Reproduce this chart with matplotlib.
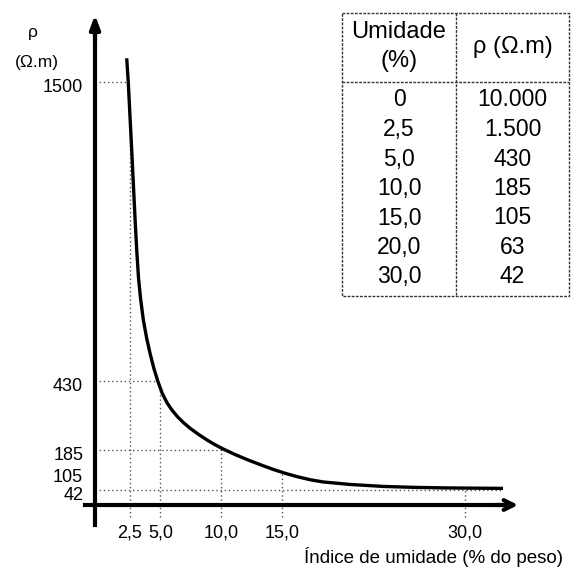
import matplotlib
matplotlib.use('Agg')
import matplotlib.pyplot as plt
import matplotlib.transforms as mtransforms

# valores da tabela
umidade = ['0', '2,5', '5,0', '10,0', '15,0', '20,0', '30,0']
resistividade = ['10.000', '1.500', '430', '185', '105', '63', '42']

# curva (traçado à mão no original)
curva_x = [2.233, 2.365, 2.504, 2.644, 2.775, 2.915, 3.054, 3.202, 3.366,
           3.596, 3.875, 4.146, 4.475, 4.778, 5.156, 5.542, 5.928, 6.404,
           6.880, 7.430, 8.128, 8.826, 9.483, 10.140, 11.125, 12.110,
           13.177, 14.245, 15.230, 16.215, 17.282, 18.350, 20.567, 23.276,
           25.903, 28.777, 33.128]
curva_y = [1585, 1496, 1376, 1257, 1139, 1014, 900, 800, 728,
           650, 584, 531, 475, 432, 387, 354, 329, 304,
           283.5, 263, 241, 221, 204, 189, 169, 151,
           133, 116, 102, 90, 79, 71, 62, 55,
           51.5, 49.5, 48]

# marcas dos eixos
x_ticks = [2.5, 5.0, 10.0, 15.0, 30.0]
x_labels = ['2,5', '5,0', '10,0', '15,0', '30,0']
y_ticks = [42, 105, 185, 430, 1500]
y_labels = ['42', '105', '185', '430', '1500']

# linhas de referência pontilhadas (terminam na curva)
guia_v_x = [2.5, 5.0, 10.0, 15.0, 30.0]
guia_v_y = [1376, 403, 192, 105, 42]
guia_h_y = [1500, 430, 185, 42]
guia_h_x = [2.36, 4.78, 10.35, 33.0]

W, H = 572, 574
plt.rcParams['font.family'] = ['Liberation Sans', 'DejaVu Sans']

fig = plt.figure(figsize=(W / 100, H / 100), dpi=100)
ax = fig.add_axes([0, 0, 1, 1])
ax.set_xlim(-8.17, 38.79)
ax.set_ylim(-258.0, 1793.4)

x0 = -0.37   # posição do eixo vertical
y0 = -11.4   # posição do eixo horizontal
guia = dict(color='#555555', lw=1, linestyle=(0, (1, 2)))
for gx, gy in zip(guia_v_x, guia_v_y):
    ax.plot([gx, gx], [-54, gy], **guia)
for gy, gx in zip(guia_h_y, guia_h_x):
    ax.plot([x0, gx], [gy, gy], **guia)

ax.plot(curva_x, curva_y, color='black', lw=2.4, solid_capstyle='butt',
        solid_joinstyle='round')

for s in ['top', 'right']:
    ax.spines[s].set_visible(False)
ax.spines['left'].set_position(('data', x0))
ax.spines['left'].set_bounds(-83, 1700)
ax.spines['bottom'].set_position(('data', y0))
ax.spines['bottom'].set_bounds(-1.19, 33.6)
ax.spines['left'].set_linewidth(3)
ax.spines['bottom'].set_linewidth(3)

ax.annotate('', xy=(x0, 1740), xytext=(x0, 1650),
            arrowprops=dict(arrowstyle='-|>,head_width=0.3,head_length=0.8',
                            lw=3, color='black', shrinkA=0, shrinkB=0))
ax.annotate('', xy=(34.36, y0), xytext=(32.5, y0),
            arrowprops=dict(arrowstyle='->,head_width=0.35,head_length=0.7',
                            lw=3, color='black', shrinkA=0, shrinkB=0))

ax.set_xticks(x_ticks, labels=x_labels)
ax.set_yticks(y_ticks, labels=y_labels)
ax.tick_params(axis='x', length=0, pad=14, labelsize=13)
ax.tick_params(axis='y', length=0, pad=8.5, labelsize=13)
desloca = mtransforms.ScaledTranslation(0, -3 / 100, fig.dpi_scale_trans)
for lab in ax.get_yticklabels():
    lab.set_transform(lab.get_transform() + desloca)


def fx(px):
    return px / W


def fy(py):
    return 1 - py / H


fig.text(fx(33), fy(33), 'ρ', ha='center', va='center', fontsize=12.5)
fig.text(fx(37), fy(62), '(Ω.m)', ha='center', va='center', fontsize=12.5)
fig.text(fx(434), fy(557), 'Índice de umidade (% do peso)',
         ha='center', va='center', fontsize=13.5)

# tabela
borda = dict(color='#333333', lw=1, linestyle=(0, (2, 1)), transform=fig.transFigure)
esq, div, dir_, topo, sep, base = 342, 456, 569, 13, 82, 296
ax.plot([fx(esq), fx(dir_), fx(dir_), fx(esq), fx(esq)],
        [fy(topo), fy(topo), fy(base), fy(base), fy(topo)], **borda)
ax.plot([fx(div), fx(div)], [fy(topo), fy(base)], **borda)
ax.plot([fx(esq), fx(dir_)], [fy(sep), fy(sep)], **borda)

c1, c2 = (esq + div) / 2, (div + dir_) / 2
fig.text(fx(c1), fy(32), 'Umidade', ha='center', va='center', fontsize=17)
fig.text(fx(c1), fy(61), '(%)', ha='center', va='center', fontsize=17)
fig.text(fx(c2), fy(47), 'ρ (Ω.m)', ha='center', va='center', fontsize=17)
for i, (u, r) in enumerate(zip(umidade, resistividade)):
    yy = 100 + i * 29.5
    fig.text(fx(c1), fy(yy), u, ha='center', va='center', fontsize=16.5)
    fig.text(fx(c2), fy(yy), r, ha='center', va='center', fontsize=16.5)

fig.savefig('out.png', dpi=100)
